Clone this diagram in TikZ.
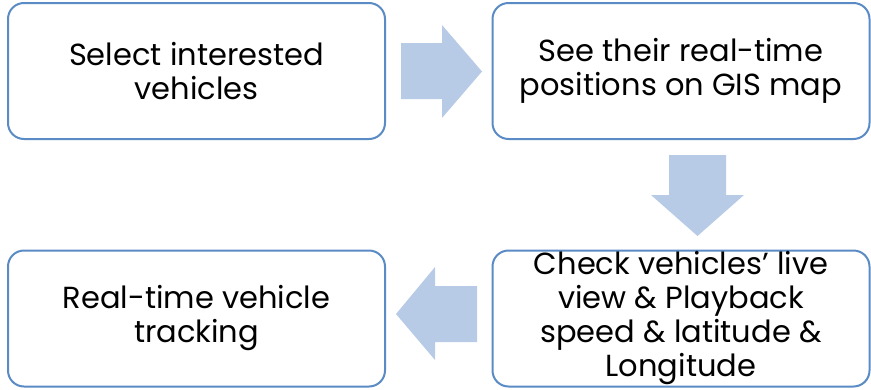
\documentclass[tikz,border=0pt]{standalone}
\usepackage{fontspec}
\setmainfont{Poppins}
\definecolor{boxblue}{HTML}{5A8BC4}
\definecolor{arrowfill}{HTML}{B7CBE7}
\begin{document}
\begin{tikzpicture}[x=1pt,y=-1pt,
  stepbox/.style={draw=boxblue,line width=2pt,rounded corners=16pt,fill=white,
    minimum width=377pt,minimum height=136pt,inner sep=0pt,
    align=center,font=\fontsize{30.5}{34}\selectfont},
  blockarrow/.style={fill=arrowfill,draw=none}]
\useasboundingbox (0,0) rectangle (871,389);
\node[stepbox] (b1) at (196.5,71) {Select interested\\vehicles};
\node[stepbox] (b2) at (681,71) {See their real-time\\positions on GIS map};
\node[stepbox] (b3) at (681,318.5) {Check vehicles’ live\\view \& Playback\\speed \& latitude \&\\Longitude};
\node[stepbox] (b4) at (196.5,318.5) {Real-time vehicle\\tracking};
% right arrow
\path[blockarrow] (401,43) -- (442,43) -- (442,25) -- (482,71.5) -- (442,118) -- (442,99) -- (401,99) -- cycle;
% down arrow
\path[blockarrow] (669,155) -- (726,155) -- (726,195) -- (744,195) -- (697.5,236) -- (651,195) -- (669,195) -- cycle;
% left arrow
\path[blockarrow] (477,286) -- (435,286) -- (435,267) -- (396,314) -- (435,360) -- (435,342) -- (477,342) -- cycle;
\end{tikzpicture}
\end{document}
